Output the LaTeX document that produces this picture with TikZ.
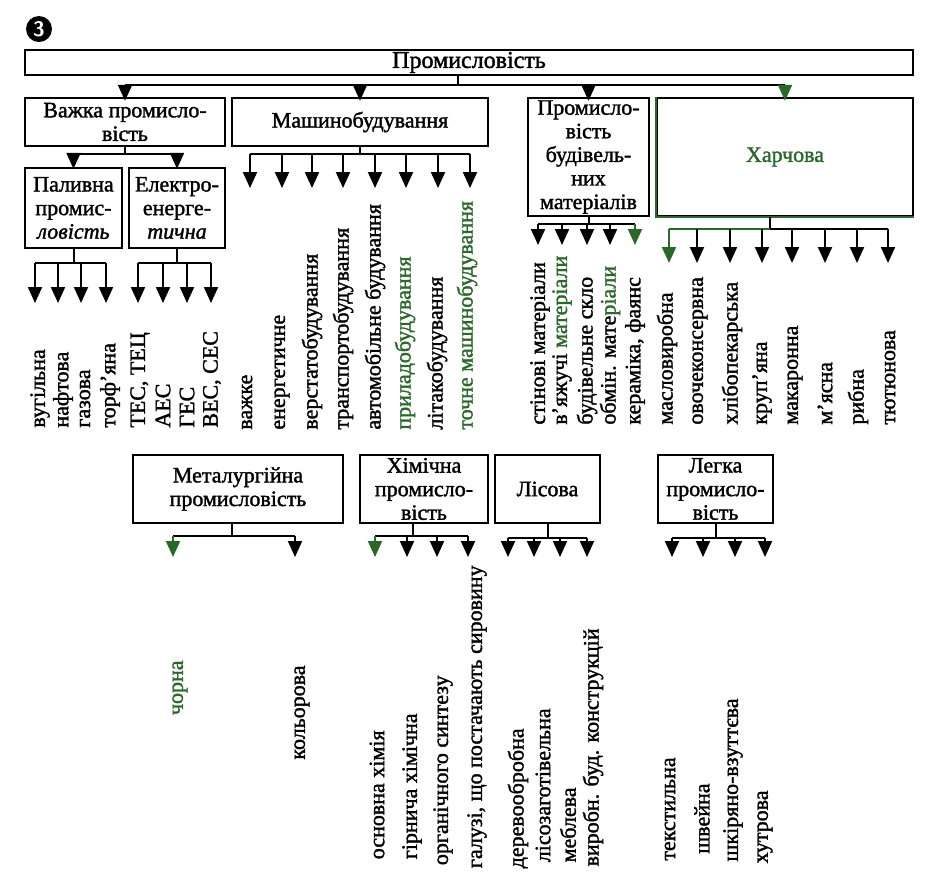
\documentclass[tikz,border=0pt]{standalone}
\usepackage{fontspec}
\setmainfont{Liberation Serif}
\newfontfamily\heavyfont{Liberation Serif}[FakeBold=1.5]
\usetikzlibrary{arrows.meta,calc}
\definecolor{darkgreen}{RGB}{40,105,40}
\tikzset{
  box/.style={draw, line width=1.2pt, inner sep=0.5pt, align=center, font=\heavyfont\fontsize{11}{11.8}\selectfont},
  line/.style={line width=1pt},
  arr/.style={line width=1pt, -{Triangle[length=8pt,width=7pt]}},
  leaf/.style={rotate=90, inner sep=0pt, font=\heavyfont\fontsize{11}{12}\selectfont},
}

\begin{document}
\begin{tikzpicture}[x=0.5pt,y=-0.5pt]
\useasboundingbox (0,0) rectangle (945,874);
\clip (0,0) rectangle (945,874);

% Number badge
\node[circle, fill=black, text=white, inner sep=0pt, minimum size=13pt, font=\sffamily\bfseries\fontsize{10.5}{10.5}\selectfont] (num) at (39,29) {3};

% Top box and first level
\node[box, minimum width=444pt, minimum height=12.5pt, font=\heavyfont\fontsize{12}{13}\selectfont] (prom) at (469,62.5) {Промисловість};
\node[box, minimum width=100pt, minimum height=24pt] (vazh) at (125,122) {Важка промисло-\\вість};
\node[box, minimum width=128pt, minimum height=24pt] (mash) at (360,122) {Машинобудування};
\node[box, minimum width=60.5pt, minimum height=59pt] (bud) at (588.5,157) {Промисло-\\вість\\будівель-\\них\\матеріалів};
\node[box, minimum width=128pt, minimum height=59pt, text=darkgreen] (harch) at (785,157) {Харчова};
\draw[darkgreen, line width=1.2pt] (harch.north west) -- (harch.south west) -- (harch.south east);

\draw[line] ([xshift=-5.5pt]prom.south) -- ++(0,9) coordinate (pb);
\draw[line] (vazh.north |- pb) -- (harch.north |- pb);
\foreach \n in {vazh,mash,bud} {
    \draw[arr] (\n.north |- pb) -- ([yshift=-2pt]\n.north);
}
\draw[arr, darkgreen] (harch.north |- pb) -- ([yshift=-2pt]harch.north);

% Heavy industry
\node[box, minimum width=48.5pt, minimum height=40pt] (pal) at (73.5,208) {Паливна\\промис-\\\textit{ловість}};
\node[box, minimum width=48pt, minimum height=40pt] (elek) at (177,208) {Електро-\\енерге-\\\textit{тична}};
\draw[line] (vazh.south) -- ++(0,7) coordinate (vb);
\draw[line] (pal.north |- vb) -- (elek.north |- vb);
\draw[arr] (pal.north |- vb) -- ([yshift=-1pt]pal.north);
\draw[arr] (elek.north |- vb) -- ([yshift=-1pt]elek.north);

% Fuel branches
\draw[line] (pal.south) -- ++(0,14) coordinate (fb);
\coordinate (ft) at (0,303);
\draw[line] (35,0 |- fb) -- (106,0 |- fb);
\foreach \a/\x/\t [count=\i] in {35/40/вугільна, 58/63/нафтова, 81/85/газова, 106/110/торф’яна} {
    \node[leaf, anchor=west] (fuel\i) at (\x,428) {\t};
    \draw[arr] (\a,0 |- fb) -- (\a,0 |- ft);
}

% Power branches
\draw[line] (elek.south) -- ++(0,14) coordinate (eb);
\draw[line] (138,0 |- eb) -- (211,0 |- eb);
\foreach \a/\x/\t [count=\i] in {138/140/{ТЕС, ТЕЦ}, 163/163/АЕС, 187/187/ГЕС, 211/212/{ВЕС, СЕС}} {
    \node[leaf, anchor=west] (pow\i) at (\x,428) {\t};
    \draw[arr] (\a,0 |- eb) -- (\a,0 |- ft);
}

% Machine building branches
\draw[line] (mash.south) -- ++(0,7) coordinate (mb);
\coordinate (mt) at (0,188);
\draw[line] (250,0 |- mb) -- (470,0 |- mb);
\foreach \a/\x/\c/\t [count=\i] in {250/247/black/важке, 282/282/black/енергетичне, 312/312/black/верстатобудування,
    343/343/black/транспортобудування, 375/375/black/автомобільне будування, 406/405/darkgreen/приладобудування,
    438/437/black/літакобудування, 470/467/darkgreen/точне машинобудування} {
    \node[leaf, anchor=west, text=\c] (mach\i) at (\x,430) {\t};
    \draw[arr] (\a,0 |- mb) -- (\a,0 |- mt);
}

% Building materials branches
\draw[line] (bud.south) -- ++(0,7) coordinate (bb);
\coordinate (bt) at (0,245);
\draw[line] (538,0 |- bb) -- (635,0 |- bb);
\foreach \a/\x/\c/\t [count=\i] in {538/540/black/стінові матеріали, 562/562/black/{в’яжучі \textcolor{darkgreen}{матеріали}},
    587/587/black/будівельне скло, 610/610/black/{обмін. мате\textcolor{darkgreen}{ріали}}, 635/635/darkgreen/{кераміка, фаянс}} {
    \node[leaf, anchor=west] (mat\i) at (\x,425) {\t};
    \draw[arr, \c] (\a,0 |- bb) -- (\a,0 |- bt);
}

% Food branches
\draw[line] ([xshift=-7.5pt]harch.south) -- ++(0,12) coordinate (hb);
\coordinate (ht) at (0,263);
\draw[line] (669,0 |- hb) -- (888,0 |- hb);
\draw[line, darkgreen] (669,0 |- hb) -- (hb);
\foreach \a/\x/\c/\t [count=\i] in {669/667/darkgreen/масловиробна, 697/700/black/овочеконсервна, 730/732/black/хлібопекарська,
    762/762/black/круп’яна, 792/795/black/макаронна, 825/825/black/м’ясна, 857/858/black/рибна, 888/890/black/тютюнова} {
    \node[leaf, anchor=west] (food\i) at (\x,425) {\t};
    \draw[arr, \c] (\a,0 |- hb) -- (\a,0 |- ht);
}

% Lower row of boxes
\node[box, minimum width=105pt, minimum height=34pt] (metal) at (238,489) {Металургійна\\промисловість};
\node[box, minimum width=64pt, minimum height=34pt] (chem) at (424,489) {Хімічна\\промисло-\\вість};
\node[box, minimum width=52.5pt, minimum height=34pt] (lis) at (547.5,489) {Лісова};
\node[box, minimum width=57.5pt, minimum height=34pt] (legka) at (715.5,489) {Легка\\промисло-\\вість};
\coordinate (lt) at (0,557);

% Metallurgy branches
\draw[line] ([xshift=-3pt]metal.south) -- ++(0,12) coordinate (mlb);
\draw[line] (173,0 |- mlb) -- (295,0 |- mlb);
\foreach \a/\x/\y/\c/\t [count=\i] in {173/180/660/darkgreen/чорна, 295/302/665/black/кольорова} {
    \node[leaf, anchor=east, text=\c] (met\i) at (\x,\y) {\t};
    \draw[arr, \c] (\a,0 |- mlb) -- (\a,0 |- lt);
}

% Chemical branches
\draw[line] ([xshift=-5.5pt]chem.south) -- ++(0,12) coordinate (cb);
\draw[line] (375,0 |- cb) -- (468,0 |- cb);
\foreach \a/\x/\y/\c/\t [count=\i] in {375/377/730/darkgreen/основна хімія, 407/412/713/black/гірнича хімічна,
    437/443/675/black/органічного синтезу, 468/477/565/black/{галузі, що постачають сировину}} {
    \node[leaf, anchor=east] (chm\i) at (\x,\y) {\t};
    \draw[arr, \c] (\a,0 |- cb) -- (\a,0 |- lt);
}

% Forestry branches
\draw[line] (lis.south) -- ++(0,14) coordinate (lb);
\draw[line] (508,0 |- lb) -- (587,0 |- lb);
\foreach \a/\x/\y/\t [count=\i] in {508/518/728/деревообробна, 534/543/708/лісозаготівельна,
    560/568/787/меблева, 587/593/628/{виробн. буд. конструкцій}} {
    \node[leaf, anchor=east] (for\i) at (\x,\y) {\t};
    \draw[arr] (\a,0 |- lb) -- (\a,0 |- lt);
}

% Light industry branches
\draw[line] (legka.south) -- ++(0,14) coordinate (gb);
\draw[line] (672,0 |- gb) -- (765,0 |- gb);
\foreach \a/\x/\y/\t [count=\i] in {672/670/757/текстильна, 703/702/783/швейна,
    735/733/698/шкіряно-взуттєва, 765/765/790/хутрова} {
    \node[leaf, anchor=east] (lig\i) at (\x,\y) {\t};
    \draw[arr] (\a,0 |- gb) -- (\a,0 |- lt);
}

\end{tikzpicture}
\end{document}
